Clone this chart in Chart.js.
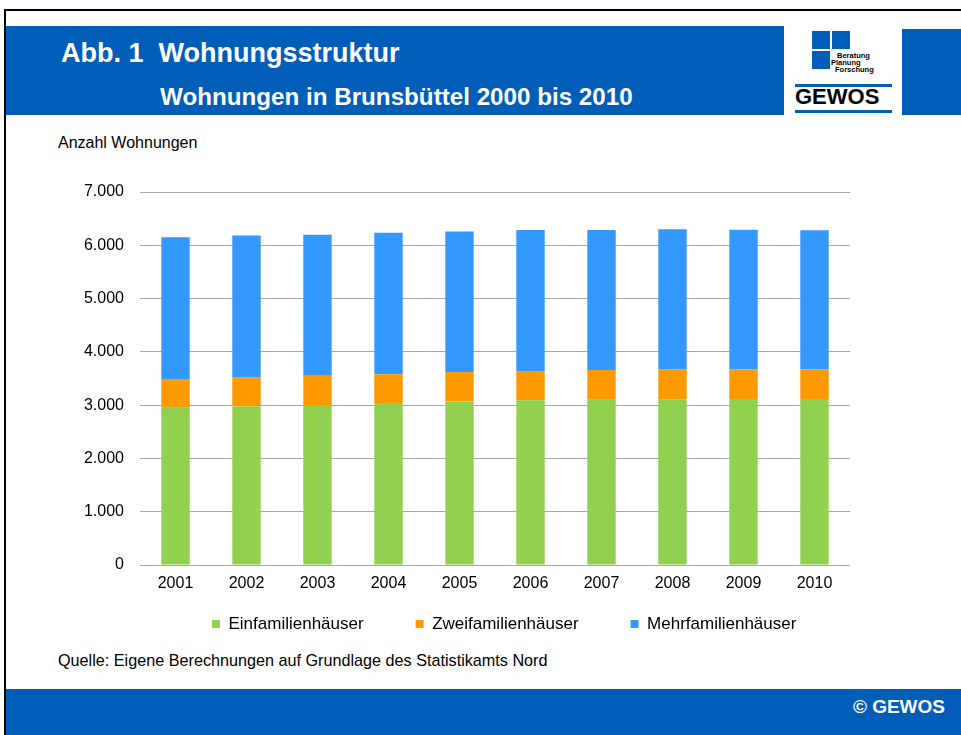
<!DOCTYPE html>
<html>
<head>
<meta charset="utf-8">
<script src="https://cdn.jsdelivr.net/npm/chart.js@4.4.1/dist/chart.umd.min.js"></script>
<style>
  html, body { margin:0; padding:0; background:#fff; }
  body { width:961px; height:735px; position:relative; overflow:hidden; font-family:"Liberation Sans", Arial, sans-serif; }
  .abs { position:absolute; }
  #frame { left:4px; top:9px; width:1000px; height:800px; border:2px solid #000; box-sizing:border-box; }
  #hdr { left:6px; top:26px; width:778px; height:89px; background:#005EB8; }
  #hdr2 { left:902px; top:29px; width:59px; height:86px; background:#005EB8; }
  #title { left:61px; top:37px; color:#fff; font-weight:bold; font-size:27px; line-height:32px; white-space:pre; }
  #subtitle { left:160px; top:83px; color:#fff; font-weight:bold; font-size:24.2px; line-height:28px; white-space:pre; }
  .sq { background:#005EB8; width:18px; height:18px; }
  .lg { font-size:7.5px; font-weight:bold; color:#000; line-height:8px; white-space:pre; }
  .bl { background:#005EB8; height:3px; left:795px; width:97px; }
  #gewos { left:795px; top:84px; font-size:22px; font-weight:bold; color:#000; line-height:25px; }
  #ylab { left:58px; top:134px; font-size:16px; line-height:18px; color:#000; white-space:pre; }
  #src { left:58px; top:651px; font-size:16.2px; line-height:18px; color:#000; white-space:pre; }
  #foot { left:6px; top:689px; width:955px; height:46px; background:#005EB8; }
  #copy { right:16px; top:696px; color:#fff; font-weight:bold; font-size:19px; line-height:22px; white-space:pre; }
  #c { left:0; top:0; }
</style>
</head>
<body>
<div id="frame" class="abs"></div>
<div id="hdr" class="abs"></div>
<div id="hdr2" class="abs"></div>
<div id="title" class="abs">Abb. 1  Wohnungsstruktur</div>
<div id="subtitle" class="abs">Wohnungen in Brunsbüttel 2000 bis 2010</div>
<div class="abs sq" style="left:812px;top:31px;"></div>
<div class="abs sq" style="left:832px;top:31px;"></div>
<div class="abs sq" style="left:812px;top:51px;"></div>
<div class="abs lg" style="left:837px;top:52px;">Beratung</div>
<div class="abs lg" style="left:831px;top:59px;">Planung</div>
<div class="abs lg" style="left:835px;top:66px;">Forschung</div>
<div class="abs bl" style="top:84px;"></div>
<div id="gewos" class="abs">GEWOS</div>
<div class="abs bl" style="top:110px;"></div>
<div id="ylab" class="abs">Anzahl Wohnungen</div>
<div id="src" class="abs">Quelle: Eigene Berechnungen auf Grundlage des Statistikamts Nord</div>
<div id="foot" class="abs"></div>
<div id="copy" class="abs">© GEWOS</div>
<canvas id="c" class="abs" width="961" height="735"></canvas>
<script>
const years = ['2001','2002','2003','2004','2005','2006','2007','2008','2009','2010'];
const einfamilien = [2950, 2975, 3000, 3040, 3070, 3090, 3100, 3110, 3115, 3115];
const zweifamilien = [540, 550, 550, 540, 550, 550, 560, 560, 555, 555];
const mehrfamilien = [2660, 2660, 2650, 2655, 2640, 2645, 2625, 2630, 2620, 2610];
const seriesNames = ['Einfamilienhäuser', 'Zweifamilienhäuser', 'Mehrfamilienhäuser'];
const yTickLabels = ['0', '1.000', '2.000', '3.000', '4.000', '5.000', '6.000', '7.000'];

const legendNudge = {
  id: 'legendNudge',
  afterLayout(chart) {
    const lg = chart.legend;
    if (!lg) return;
    const pad = lg.options.labels.padding;
    const fs = lg.options.labels.font.size;
    const curY = lg.top + pad + fs / 2;
    const dy = 624 - curY;
    const startX = (lg.left + pad + lg.right - lg.lineWidths[0]) / 2;
    const dx = 212 - startX;
    lg.top += dy; lg.bottom += dy;
    lg.left += dx; lg.right += dx;
  }
};

const font = { family: '"Liberation Sans", Arial, sans-serif', size: 16 };
const legendFont = { family: '"Liberation Sans", Arial, sans-serif', size: 17 };
new Chart(document.getElementById('c'), {
  type: 'bar',
  data: {
    labels: years,
    datasets: [
      { label: seriesNames[0], data: einfamilien, backgroundColor: '#92D050' },
      { label: seriesNames[1], data: zweifamilien, backgroundColor: '#FF9900' },
      { label: seriesNames[2], data: mehrfamilien, backgroundColor: '#3399FF' }
    ]
  },
  options: {
    responsive: false,
    animation: false,
    devicePixelRatio: 1,
    layout: { padding: { left: 80, right: 111, top: 192, bottom: 63 } },
    datasets: { bar: { barPercentage: 1, categoryPercentage: 0.4 } },
    scales: {
      x: {
        stacked: true,
        grid: { display: false, drawTicks: false },
        border: { display: false },
        ticks: { color: '#000', font: font, padding: 9, maxRotation: 0 },
        afterFit(s) { s.height = 28; }
      },
      y: {
        stacked: true,
        min: 0, max: 7000,
        grid: { color: '#A6A6A6', lineWidth: 1, drawTicks: false },
        border: { display: false },
        ticks: {
          stepSize: 1000, color: '#000', font: font, padding: 16,
          callback: (v) => yTickLabels[Math.round(v / 1000)]
        },
        afterFit(s) { s.width = 60; }
      }
    },
    plugins: {
      tooltip: { enabled: false },
      legend: {
        position: 'bottom',
        fullSize: false,
        labels: { boxWidth: 8, boxHeight: 8, padding: 52, color: '#000', font: legendFont }
      }
    }
  },
  plugins: [legendNudge]
});
</script>
</body>
</html>
